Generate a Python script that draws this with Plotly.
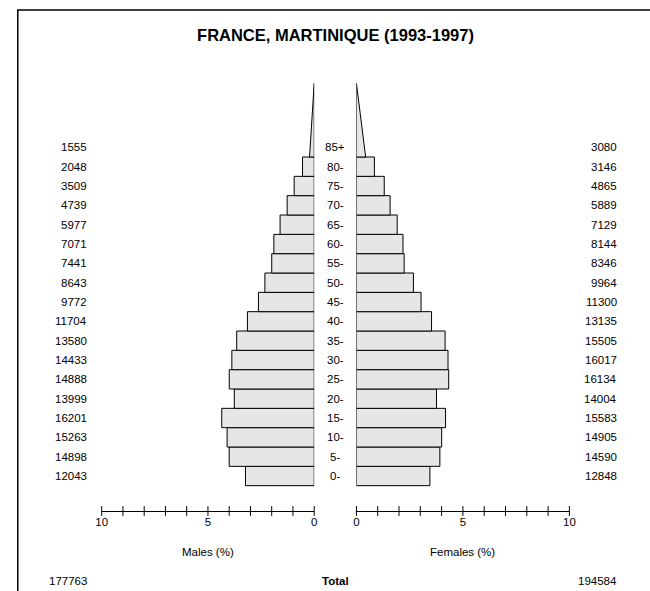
import plotly.graph_objects as go

FONT = "Liberation Sans, Arial, Helvetica, sans-serif"
BAR_FILL = "#e6e6e6"

AGE_GROUPS = ["0-", "5-", "10-", "15-", "20-", "25-", "30-", "35-", "40-",
              "45-", "50-", "55-", "60-", "65-", "70-", "75-", "80-", "85+"]
MALES = [12043, 14898, 15263, 16201, 13999, 14888, 14433, 13580, 11704,
         9772, 8643, 7441, 7071, 5977, 4739, 3509, 2048, 1555]
FEMALES = [12848, 14590, 14905, 15583, 14004, 16134, 16017, 15505, 13135,
           11300, 9964, 8346, 8144, 7129, 5889, 4865, 3146, 3080]
TOTAL_MALES = 177763
TOTAL_FEMALES = 194584
AXIS_TICKS = list(range(0, 11))
AXIS_LABELS = [0, 5, 10]

W, H = 650, 591
Y_RANGE = [-1.81, 21.0]
TOP_HEIGHT = 3.81  # rows spanned by the open-ended 85+ triangle

grand_total = TOTAL_MALES + TOTAL_FEMALES
male_pct = [v / grand_total * 100 for v in MALES]
female_pct = [v / grand_total * 100 for v in FEMALES]
rows = list(range(len(AGE_GROUPS)))


def px_x(p):
    return p / W


fig = go.Figure()

for pct, xa in ((male_pct, "x"), (female_pct, "x2")):
    fig.add_trace(go.Bar(
        x=pct[:-1], y=rows[:-1], orientation="h", width=1, base=0,
        marker=dict(color=BAR_FILL, line=dict(color="black", width=1)),
        xaxis=xa, yaxis="y", showlegend=False, hoverinfo="skip",
    ))
    # 85+ drawn as a triangle of equal area
    base_w = 2 * pct[-1] / TOP_HEIGHT
    y0 = rows[-1] - 0.5
    fig.add_trace(go.Scatter(
        x=[0, base_w, 0, 0], y=[y0, y0, y0 + TOP_HEIGHT, y0],
        fill="toself", fillcolor=BAR_FILL, mode="lines",
        line=dict(color="black", width=1),
        xaxis=xa, yaxis="y", showlegend=False, hoverinfo="skip",
    ))
    fig.add_trace(go.Scatter(
        x=AXIS_TICKS, y=[Y_RANGE[0]] * len(AXIS_TICKS), mode="markers",
        marker=dict(symbol="line-ns-open", size=7, color="black",
                    line=dict(color="black", width=1)),
        cliponaxis=False, xaxis=xa, yaxis="y", showlegend=False, hoverinfo="skip",
    ))

axis_common = dict(
    showline=True, linecolor="black", linewidth=1, ticks="", showgrid=False,
    zeroline=False, tickvals=AXIS_LABELS, tickfont=dict(size=11.5, color="black"),
    fixedrange=True, anchor="y",
)
fig.update_layout(
    xaxis=dict(domain=[px_x(97.5), px_x(314)], range=[10, 0], **axis_common),
    xaxis2=dict(domain=[px_x(357), px_x(574)], range=[0, 10], **axis_common),
    yaxis=dict(range=Y_RANGE, visible=False, fixedrange=True),
)

ann = []
for i, age in enumerate(AGE_GROUPS):
    ann.append(dict(x=px_x(335.5), y=i, xref="paper", yref="y", text=age,
                    showarrow=False, xanchor="center", yanchor="middle"))
    ann.append(dict(x=px_x(85), y=i, xref="paper", yref="y", text=str(MALES[i]),
                    showarrow=False, xanchor="right", yanchor="middle"))
    ann.append(dict(x=px_x(625), y=i, xref="paper", yref="y", text=str(FEMALES[i]),
                    showarrow=False, xanchor="right", yanchor="middle"))

plot_top, plot_bot = 70, 511


def py(p):
    return (plot_bot - p) / (plot_bot - plot_top)


ann += [
    dict(x=px_x(205.7), y=py(552), text="Males (%)"),
    dict(x=px_x(465.5), y=py(552), text="Females (%)"),
    dict(x=px_x(335.5), y=py(581), text="<b>Total</b>"),
    dict(x=px_x(85), y=py(581), text=str(TOTAL_MALES), xanchor="right"),
    dict(x=px_x(625), y=py(581), text=str(TOTAL_FEMALES), xanchor="right"),
]
for a in ann[-5:]:
    a.update(xref="paper", yref="paper", showarrow=False, yanchor="middle")
    a.setdefault("xanchor", "center")

fig.update_layout(
    width=W, height=H,
    margin=dict(l=0, r=0, t=plot_top, b=H - plot_bot),
    paper_bgcolor="white", plot_bgcolor="white",
    font=dict(family=FONT, size=11.5, color="black"),
    title=dict(text="FRANCE, MARTINIQUE (1993-1997)", x=px_x(335.5), xanchor="center",
               y=1 - 35 / H, yanchor="middle",
               font=dict(size=16.5, weight="bold", color="black")),
    annotations=ann,
    shapes=[dict(type="path", xref="paper", yref="paper",
                 path=f"M {px_x(12)},{py(620)} L {px_x(12)},{py(10)} L {px_x(660)},{py(10)}",
                 line=dict(color="black", width=1.5))],
)

fig.write_html("out.html", config={"displayModeBar": False},
               post_script="document.body.style.margin='0';"
               "document.body.style.overflow='hidden';")
